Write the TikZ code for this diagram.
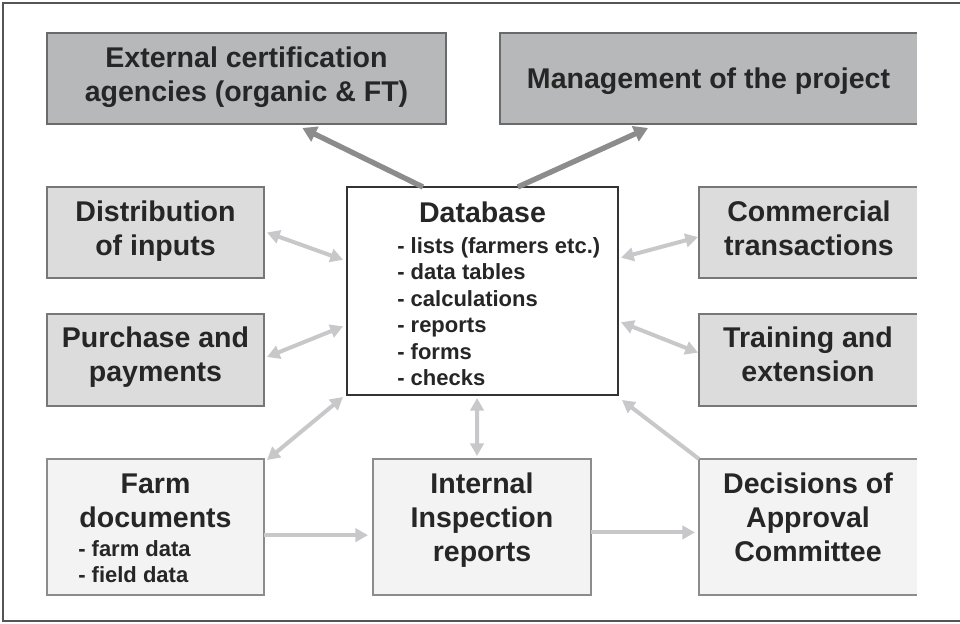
\documentclass[tikz,border=0pt]{standalone}
\usepackage{fontspec}
\setmainfont{Liberation Sans}
\usetikzlibrary{arrows.meta,calc}
\definecolor{txt}{HTML}{262626}
\definecolor{fillA}{HTML}{B7B8BA}
\definecolor{fillB}{HTML}{DCDCDC}
\definecolor{fillC}{HTML}{F3F3F3}
\definecolor{edgeA}{HTML}{6A6A6A}
\definecolor{edgeB}{HTML}{777777}
\definecolor{edgeC}{HTML}{8C8C8C}
\definecolor{arrD}{HTML}{8C8C8C}
\definecolor{arrL}{HTML}{C8C8CA}
\definecolor{frame}{HTML}{555555}
\tikzset{
  boxbase/.style={rectangle, inner sep=0pt, outer sep=0pt},
  boxA/.style={boxbase, fill=fillA, draw=edgeA, line width=1.2pt},
  boxAo/.style={boxbase, fill=fillA},
  boxB/.style={boxbase, fill=fillB, draw=edgeB, line width=1pt},
  boxBo/.style={boxbase, fill=fillB},
  boxC/.style={boxbase, fill=fillC, draw=edgeC, line width=1pt},
  boxCo/.style={boxbase, fill=fillC},
  dbbox/.style={boxbase, fill=white, draw=black!80, line width=1.2pt},
  big/.style={inner sep=0pt, anchor=north, align=center, text=txt,
    font=\fontsize{21.4pt}{25.5pt}\selectfont\bfseries},
  small/.style={inner sep=0pt, anchor=north west, align=left, text=txt,
    font=\fontsize{16.5pt}{19.9pt}\selectfont\bfseries},
  darkarrow/.style={draw=arrD, line width=4pt, -{Triangle[length=10.5pt,width=12pt]}},
  lightarrow/.style={draw=arrL, line width=3pt, -{Triangle[length=9.5pt,width=10pt]}},
  lightboth/.style={draw=arrL, line width=3pt, {Triangle[length=9.5pt,width=10pt]}-{Triangle[length=9.5pt,width=10pt]}},
}
\begin{document}
\begin{tikzpicture}[x=0.75pt,y=-0.75pt]
\useasboundingbox (0,0) rectangle (960,624);
\fill[white] (0,0) rectangle (960,624);
\draw[frame, line width=1.2pt] (960,3) -- (3,3) -- (3,621) -- (960,621);

% boxes
\node[boxA, minimum width=299.25pt, minimum height=68.25pt] (ext) at (246.5,78.5) {};
\node[boxAo, minimum width=312.75pt, minimum height=68.25pt] (mgmt) at (708.5,78.5) {};
\draw[edgeA, line width=1.2pt] (mgmt.north east) -- (mgmt.north west) -- (mgmt.south west) -- (mgmt.south east);

\node[boxB, minimum width=162.75pt, minimum height=68.25pt] (dist) at (155.5,232.5) {};
\node[boxB, minimum width=162.75pt, minimum height=69pt] (purch) at (155.5,360) {};
\node[boxBo, minimum width=163.5pt, minimum height=68.25pt] (comm) at (808,232.5) {};
\draw[edgeB, line width=1pt] (comm.north east) -- (comm.north west) -- (comm.south west) -- (comm.south east);
\node[boxBo, minimum width=163.5pt, minimum height=69pt] (train) at (808,360) {};
\draw[edgeB, line width=1pt] (train.north east) -- (train.north west) -- (train.south west) -- (train.south east);

\node[dbbox, minimum width=203.25pt, minimum height=156pt] (db) at (482.5,291) {};

\node[boxC, minimum width=162.75pt, minimum height=102pt] (farm) at (155.5,527) {};
\node[boxC, minimum width=163.5pt, minimum height=102pt] (ins) at (482,527) {};
\node[boxCo, minimum width=163.5pt, minimum height=102pt] (dec) at (808,527) {};
\draw[edgeC, line width=1pt] (dec.north east) -- (dec.north west) -- (dec.south west) -- (dec.south east);

% texts
\node[big] (extt) at (246.5,47) {External certification\\agencies (organic \& FT)};
\node[big] (mgmtt) at (708.5,68) {Management of the project};
\node[big] (distt) at (155.5,201) {Distribution\\of inputs};
\node[big] (purcht) at (155.5,327) {Purchase and\\payments};
\node[big] (commt) at (809,201) {Commercial\\transactions};
\node[big] (traint) at (808,327) {Training and\\extension};
\node[big] (dbt) at (482.5,202) {Database};
\node[small] (dbl) at (397,237) {- lists (farmers etc.)\\- data tables\\- calculations\\- reports\\- forms\\- checks};
\node[big] (farmt) at (155.5,474) {Farm\\documents};
\node[small] (farml) at (78,540) {- farm data\\- field data};
\node[big] (inst) at (482,473) {Internal\\Inspection\\reports};
\node[big] (dect) at (808,473) {Decisions of\\Approval\\Committee};

% connectors
\draw[darkarrow] ($(db.north west)!0.28!(db.north east)$) -- ($(ext.south west)!0.64!(ext.south east)+(0,4)$);
\draw[darkarrow] ($(db.north west)!0.63!(db.north east)$) -- ($(mgmt.south west)!0.355!(mgmt.south east)+(0,4)$);
\draw[lightboth] ($(dist.east)+(3,0)$) -- ($(db.north west)!0.35!(db.south west)+(-4,0)$);
\draw[lightboth] ($(purch.east)+(3,-3)$) -- ($(db.north west)!0.67!(db.south west)+(-4,0)$);
\draw[lightboth] ($(db.north east)!0.34!(db.south east)+(3,0)$) -- ($(comm.north west)!0.55!(comm.south west)+(-1,0)$);
\draw[lightboth] ($(db.north east)!0.65!(db.south east)+(3,0)$) -- ($(train.north west)!0.42!(train.south west)+(-1,0)$);
\draw[lightboth] ($(farm.north east)+(3,1)$) -- ($(db.south west)+(-4,2)$);
\draw[lightboth] ($(db.south west)!0.48!(db.south east)+(0,3)$) -- ($(ins.north west)!0.477!(ins.north east)+(0,-3)$);
\draw[lightarrow] (dec.north west) -- ($(db.south east)+(4,5)$);
\draw[lightarrow] ($(farm.north east)!0.56!(farm.south east)$) -- ($(ins.north west)!0.56!(ins.south west)+(-5,0)$);
\draw[lightarrow] ($(ins.north east)!0.54!(ins.south east)$) -- ($(dec.north west)!0.54!(dec.south west)+(-4,0)$);
\end{tikzpicture}
\end{document}
